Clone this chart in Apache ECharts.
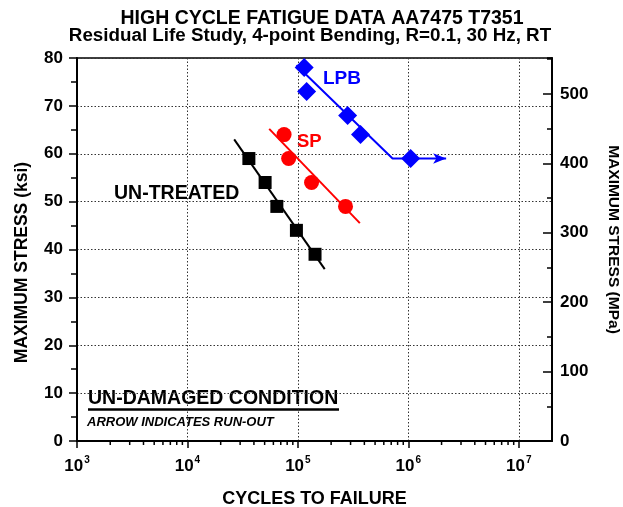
<!DOCTYPE html>
<html lang="en">
<head>
<meta charset="utf-8">
<script src="https://cdn.jsdelivr.net/npm/echarts@6/dist/echarts.min.js"></script>
<style>
  html, body { margin: 0; padding: 0; background: #fff; }
  #chart { width: 623px; height: 507px; }
</style>
</head>
<body>
<div id="chart"></div>
<script type="text/javascript">
    // test points [cycles, ksi]
    var untreatedPts = [[36000, 59], [50500, 54], [64500, 49], [97000, 44], [143000, 39]];
    var spPts = [[75000, 64], [82500, 59], [133000, 54], [270000, 49]];
    var lpbPts = [[114000, 78], [120000, 73], [282000, 68], [369000, 64], [1050000, 59]];

    // fitted lines
    var untreatedFit = [[26500, 63], [175000, 35.9]];
    var spFit = [[55000, 65.2], [364000, 45.5]];
    var lpbFit = [[97000, 78.5], [720000, 59], [2200000, 59]];

    var ksiMax = 80;
    var mpaMax = 80 * 6.895;
    var decades = [1e3, 1e4, 1e5, 1e6, 1e7];
    var minorMult = [2, 3, 4, 5, 6, 7, 8, 9];

    var minorTicks = [];
    decades.forEach(function (d) {
        minorMult.forEach(function (m) {
            if (d * m < 2e7) minorTicks.push([d * m, 0]);
        });
    });

    var font = 'Liberation Sans, Arial, sans-serif';

    var myChart = echarts.init(document.getElementById('chart'));

    var lpbLine = lpbFit.map(function (p, i) {
        if (i === lpbFit.length - 1) {
            return {value: p, symbol: 'arrow', symbolSize: [8, 13], symbolRotate: -90};
        }
        return {value: p, symbol: 'none'};
    });

    function note(x, y, text, size, color, italic) {
        return {
            type: 'text', x: x, y: y,
            style: {
                text: text, fontFamily: font, fontSize: size, fontWeight: 'bold',
                fontStyle: italic ? 'italic' : 'normal', fill: color,
                align: 'left', verticalAlign: 'middle'
            }
        };
    }

    var option = {
        animation: false,
        title: [{
            text: 'HIGH CYCLE FATIGUE DATA AA7475 T7351',
            left: 317, top: 4, textAlign: 'center',
            textStyle: {fontFamily: font, fontSize: 19.5, fontWeight: 'bold', color: '#000'}
        }, {
            text: 'Residual Life Study, 4-point Bending, R=0.1, 30 Hz, RT',
            left: 305, top: 21, textAlign: 'center',
            textStyle: {fontFamily: font, fontSize: 18.8, fontWeight: 'bold', color: '#000'}
        }],
        grid: {
            left: 77, right: 71, top: 58, bottom: 66,
            outerBoundsMode: 'none', containLabel: false,
            show: true, borderColor: '#000', borderWidth: 1.5
        },
        xAxis: {
            type: 'log', logBase: 10, min: 1e3, max: 2e7,
            name: 'CYCLES TO FAILURE', nameLocation: 'middle', nameGap: 49,
            nameTextStyle: {fontFamily: font, fontSize: 18, fontWeight: 'bold', color: '#000'},
            axisLine: {lineStyle: {color: '#000', width: 2}},
            axisTick: {show: true, length: 7, lineStyle: {color: '#000', width: 1.5}},
            splitLine: {show: true, lineStyle: {color: '#333', type: [1.5, 2], width: 1}},
            axisLabel: {
                showMaxLabel: false, margin: 14,
                formatter: function (v) {
                    return '{b|10}{s|' + Math.round(Math.log10(v)) + '}';
                },
                rich: {
                    b: {fontFamily: font, fontSize: 17, fontWeight: 'bold', color: '#000', lineHeight: 20, verticalAlign: 'bottom'},
                    s: {fontFamily: font, fontSize: 10, fontWeight: 'bold', color: '#000', lineHeight: 20, verticalAlign: 'top', padding: [0, 0, 0, 1]}
                }
            }
        },
        yAxis: [{
            type: 'value', min: 0, max: ksiMax, interval: 10, position: 'left',
            name: 'MAXIMUM STRESS (ksi)', nameLocation: 'middle', nameGap: 46, nameRotate: 90,
            nameTextStyle: {fontFamily: font, fontSize: 17.5, fontWeight: 'bold', color: '#000', padding: [0, 26, 0, 0]},
            axisLine: {show: true, lineStyle: {color: '#000', width: 2}},
            axisTick: {show: true, length: 8, lineStyle: {color: '#000', width: 1.5}},
            minorTick: {show: true, splitNumber: 2, length: 6, lineStyle: {color: '#000', width: 1.5}},
            splitLine: {show: true, lineStyle: {color: '#333', type: [1.5, 2], width: 1}},
            axisLabel: {margin: 14, fontFamily: font, fontSize: 17, fontWeight: 'bold', color: '#000'}
        }, {
            type: 'value', min: 0, max: mpaMax, interval: 100, position: 'right',
            name: 'MAXIMUM STRESS (MPa)', nameLocation: 'middle', nameGap: 53, nameRotate: -90,
            nameTextStyle: {fontFamily: font, fontSize: 15.5, fontWeight: 'bold', color: '#000', padding: [0, 20, 0, 0]},
            axisLine: {show: true, lineStyle: {color: '#000', width: 2}},
            axisTick: {show: true, inside: true, length: 9, lineStyle: {color: '#000', width: 1.5}},
            splitLine: {show: false},
            axisLabel: {showMaxLabel: false, margin: 8, fontFamily: font, fontSize: 17, fontWeight: 'bold', color: '#000'}
        }, {
            type: 'value', min: 0, max: mpaMax, interval: 50, position: 'right',
            axisLine: {show: false},
            axisTick: {show: true, inside: true, length: 5, lineStyle: {color: '#000', width: 1.5}},
            splitLine: {show: false},
            axisLabel: {show: false}
        }],
        graphic: [
            note(88, 399, 'UN-DAMAGED CONDITION', 19.5, '#000'),
            {type: 'line', shape: {x1: 88, y1: 409.5, x2: 339, y2: 409.5}, style: {stroke: '#000', lineWidth: 2.5}},
            note(87, 422, 'ARROW INDICATES RUN-OUT', 13, '#000', true),
            note(114, 194, 'UN-TREATED', 19.5, '#000'),
            note(297, 142, 'SP', 18.5, '#ff0000'),
            note(323, 79, 'LPB', 19, '#0000ff')
        ],
        series: [{
            name: 'minor', type: 'custom', silent: true, z: 1,
            renderItem: function (params, api) {
                var p = api.coord([api.value(0), 0]);
                return {
                    type: 'line',
                    shape: {x1: p[0], y1: p[1], x2: p[0], y2: p[1] + 4},
                    style: {stroke: '#000', lineWidth: 1.5}
                };
            },
            clip: false,
            data: minorTicks
        }, {
            name: 'UN-TREATED fit', type: 'line', data: untreatedFit, symbol: 'none',
            lineStyle: {color: '#000', width: 2}
        }, {
            name: 'SP fit', type: 'line', data: spFit, symbol: 'none',
            lineStyle: {color: '#ff0000', width: 2}
        }, {
            name: 'LPB fit', type: 'line', data: lpbLine, showSymbol: true,
            itemStyle: {color: '#0000ff', opacity: 1},
            lineStyle: {color: '#0000ff', width: 2}
        }, {
            name: 'UN-TREATED', type: 'scatter', data: untreatedPts, symbol: 'rect', symbolSize: 13,
            itemStyle: {color: '#000', opacity: 1}
        }, {
            name: 'SP', type: 'scatter', data: spPts, symbol: 'circle', symbolSize: 15,
            itemStyle: {color: '#ff0000', opacity: 1}
        }, {
            name: 'LPB', type: 'scatter', data: lpbPts, symbol: 'diamond', symbolSize: 19,
            itemStyle: {color: '#0000ff', opacity: 1}
        }]
    };

    myChart.setOption(option);
</script>
</body>
</html>
